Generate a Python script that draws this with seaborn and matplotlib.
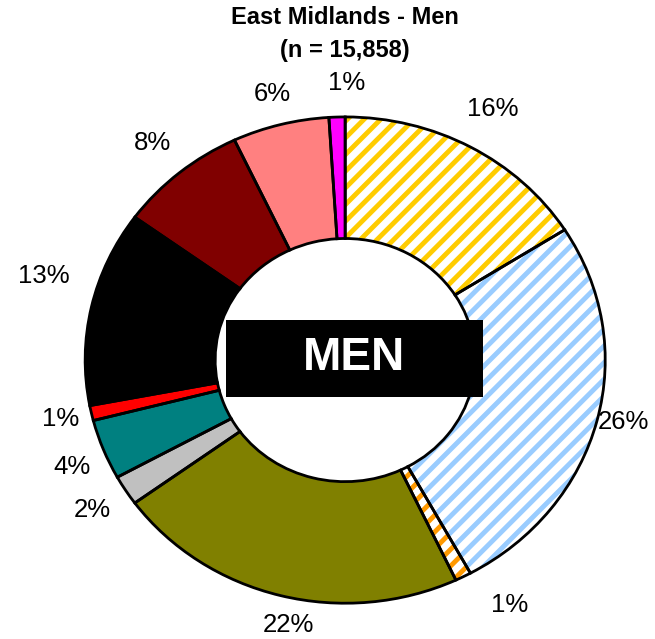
import matplotlib
matplotlib.use("Agg")
import matplotlib.pyplot as plt
from matplotlib.patches import Rectangle
import numpy as np
import seaborn as sns

sns.set_theme(style="white")
plt.rcParams["font.family"] = ["Liberation Sans", "DejaVu Sans"]
plt.rcParams["text.color"] = "black"
plt.rcParams["hatch.linewidth"] = 3.5

# slice values (percent), clockwise from 12 o'clock
shares = [16, 26, 1, 22, 2, 4, 1, 13, 8, 6, 1]
colors = ["#FFCC00", "#99CCFF", "#FF9900", "#808000", "#C0C0C0", "#008080",
          "#FF0000", "#000000", "#800000", "#FF8080", "#FF00FF"]
hatched = [True, True, True, False, False, False, False, False, False, False, False]
labels = [f"{v}%" for v in shares]

# label placement tweaks (radial distance, angle nudge in degrees)
label_dist = [1.18, 1.10, 1.19, 1.11, 1.15, 1.14, 1.12, 1.21, 1.16, 1.13, 1.14]
label_nudge = [0, 1, 5, 3, 0, 1, 0, -4, 0, 0, -2]

fig = plt.figure(figsize=(6.55, 6.39), dpi=100)
ax = fig.add_axes([0.130, 0.056, 0.794, 0.761])

# base layer: solid fills and hatch stripes (hatch takes edge colour)
face = ["white" if h else c for h, c in zip(hatched, colors)]
edge = [c if h else "none" for h, c in zip(hatched, colors)]
wedges, _ = ax.pie(shares, startangle=90, counterclock=False, radius=1,
                   wedgeprops=dict(width=0.5, linewidth=0))
for w, f, e, h in zip(wedges, face, edge, hatched):
    w.set_facecolor(f)
    w.set_edgecolor(e)
    if h:
        w.set_hatch("//")

# outline layer
ax.pie(shares, startangle=90, counterclock=False, radius=1,
       wedgeprops=dict(width=0.5, facecolor="none", edgecolor="black",
                       linewidth=2))

ax.set_aspect("auto")
ax.set_xlim(-1, 1)
ax.set_ylim(-1, 1)

# percentage labels outside the ring
cum = np.cumsum([0] + shares[:-1])
for v, c0, lab, d, n in zip(shares, cum, labels, label_dist, label_nudge):
    ang = np.deg2rad(90 - 3.6 * (c0 + v / 2) + n)
    ax.text(d * np.cos(ang), d * np.sin(ang), lab, ha="center",
            va="center", fontsize=18.5, clip_on=False)

# center box
ax.add_patch(Rectangle((-0.458, -0.152), 0.989, 0.317, facecolor="black",
                       edgecolor="none", zorder=5))
ax.text(0.035, 0.008, "MEN", ha="center", va="center", fontsize=33,
        fontweight="bold", color="white", zorder=6)

fig.text(0.527, 0.972, "East Midlands - Men", ha="center", va="center",
         fontsize=17, fontweight="bold")
fig.text(0.527, 0.921, "(n = 15,858)", ha="center", va="center",
         fontsize=17, fontweight="bold")

fig.savefig("out.png", dpi=100, facecolor="white")
